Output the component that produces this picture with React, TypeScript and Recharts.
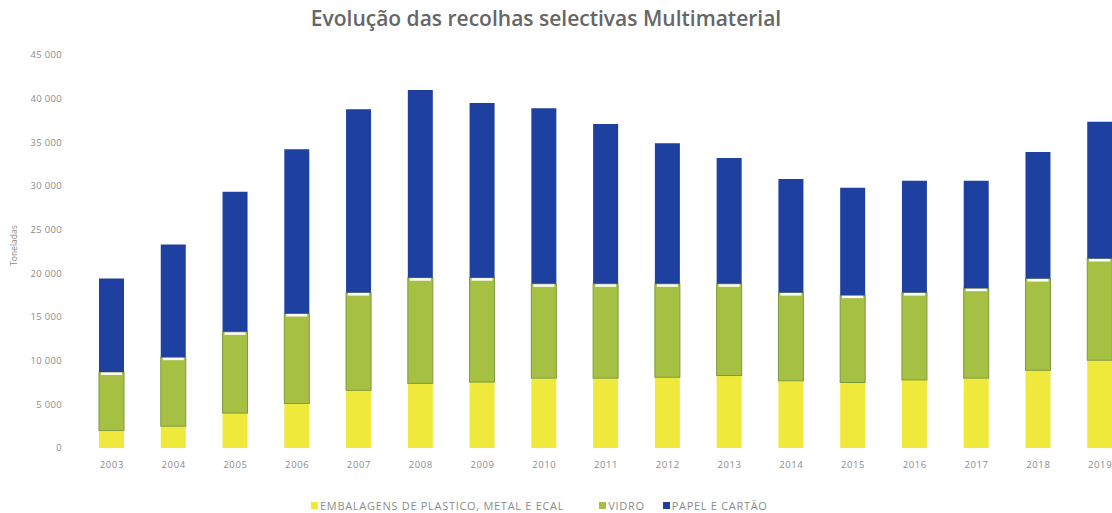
import React from "react";
import { BarChart, Bar, XAxis, YAxis, Label } from "recharts";

const years = ["2003","2004","2005","2006","2007","2008","2009","2010","2011","2012","2013","2014","2015","2016","2017","2018","2019"];
const embalagens = [2000,2500,4000,5100,6600,7400,7550,8000,8000,8100,8300,7700,7500,7800,8000,8900,10050];
const vidro = [6700,7900,9300,10300,11200,12100,11950,10800,10800,10700,10500,10100,10000,10000,10300,10500,11650];
const papel = [10700,12900,16050,18800,21000,21500,20000,20100,18300,16100,14400,13000,12300,12800,12300,14500,15650];
const yTicks = [0,5000,10000,15000,20000,25000,30000,35000,40000,45000];

const seriesNames = ["EMBALAGENS DE PLASTICO, METAL E ECAL", "VIDRO", "PAPEL E CARTÃO"];
const colors = ["#eee93a", "#a6c044", "#1e40a0"];

const data = years.map((y, i) => ({ year: y, emb: embalagens[i], vid: vidro[i], pap: papel[i] }));

const fmt = (v: number) => {
  const s = String(v);
  return s.length > 3 ? s.slice(0, s.length - 3) + " " + s.slice(-3) : s;
};

const GreenShape = (props: any) => {
  const { x, y, width, height } = props;
  if (!height || height <= 0) return null;
  return (
    <g>
      <rect x={x} y={y} width={width} height={height} fill={colors[1]} stroke="#7d9a3c" strokeWidth={1} />
      <rect x={x + 2} y={y + 0.5} width={width - 4} height={2.5} fill="#ffffff" />
    </g>
  );
};

export default function App() {
  return (
    <div style={{ position: "fixed", left: 0, top: 0, width: 1112, height: 513, overflow: "hidden", background: "#fff" }}>
      <div style={{ position: "absolute", left: 0, width: 1092, top: 4, textAlign: "center", fontFamily: "'Open Sans', sans-serif", fontSize: 21, fontWeight: 600, color: "#666666" }}>
        Evolução das recolhas selectivas Multimaterial
      </div>
      <div style={{ position: "absolute", left: 0, top: 0 }}>
        <BarChart width={1140} height={513} data={data} margin={{ top: 55, right: 9, bottom: 35, left: 0 }}>
          <XAxis dataKey="year" height={30} tickLine={false} axisLine={false} tickMargin={7}
            tick={{ fontSize: 9.5, fill: "#8c8c8c", fontFamily: "'Open Sans', sans-serif", letterSpacing: 0.6 }} />
          <YAxis width={81} domain={[0, 45000]} ticks={yTicks} tickFormatter={fmt} tickLine={false} axisLine={false} tickMargin={13}
            tick={{ fontSize: 9.5, fill: "#8c8c8c", fontFamily: "'Open Sans', sans-serif", letterSpacing: 0.3 }}>
            <Label content={(p: any) => {
              const vb = p.viewBox || { y: 55, height: 393 };
              const cy = vb.y + vb.height / 2 - 6;
              return (
                <text x={17} y={cy} transform={`rotate(-90, 17, ${cy})`} textAnchor="middle" fontSize={8.5} fill="#8c8c8c" fontFamily="'Open Sans', sans-serif">Toneladas</text>
              );
            }} />
          </YAxis>
          <Bar dataKey="emb" stackId="a" fill={colors[0]} barSize={25} isAnimationActive={false} />
          <Bar dataKey="vid" stackId="a" fill={colors[1]} barSize={25} shape={GreenShape} isAnimationActive={false} />
          <Bar dataKey="pap" stackId="a" fill={colors[2]} barSize={25} isAnimationActive={false} />
        </BarChart>
      </div>
      <div style={{ position: "absolute", left: 311, top: 498, display: "flex", alignItems: "center", fontFamily: "'Open Sans', sans-serif", fontSize: 11, letterSpacing: 0.7, color: "#8c8c8c", whiteSpace: "nowrap" }}>
        {seriesNames.map((n, i) => (
          <div key={n} style={{ display: "flex", alignItems: "center", marginRight: i === 0 ? 35 : 18 }}>
            <span style={{ display: "inline-block", width: 7, height: 7, background: colors[i], marginRight: 2 }} />
            <span>{n}</span>
          </div>
        ))}
      </div>
    </div>
  );
}
